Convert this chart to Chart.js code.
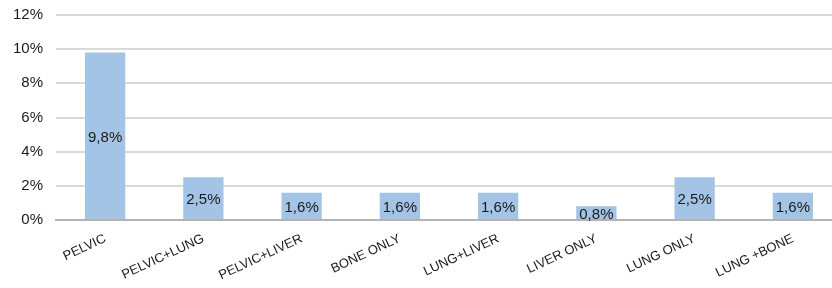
<!DOCTYPE html>
<html>
<head>
<meta charset="utf-8">
<script src="https://cdn.jsdelivr.net/npm/chart.js@4.4.1/dist/chart.umd.min.js"></script>
<style>
    /* canvas is a bit larger than the window: the reference plot runs past the right edge
       and sits closer to the top than Chart.js would put it */
    html, body { margin: 0; padding: 0; background: #fff; overflow: hidden; }
    .chart-container { width: 842px; height: 297px; margin-top: -7px; }
</style>
</head>
<body>
<div class="chart-container"><canvas id="chart"></canvas></div>
<script>
    // Data
    const categories = ['PELVIC', 'PELVIC+LUNG', 'PELVIC+LIVER', 'BONE ONLY', 'LUNG+LIVER', 'LIVER ONLY', 'LUNG ONLY', 'LUNG +BONE'];
    const shares = [9.8, 2.5, 1.6, 1.6, 1.6, 0.8, 2.5, 1.6];
    const yTicks = [0, 2, 4, 6, 8, 10, 12];

    const fontFamily = '"Liberation Sans", Arial, Helvetica, sans-serif';

    // Value labels drawn in the middle of each bar, with a comma decimal
    const barLabels = {
        id: 'barLabels',
        afterDatasetsDraw(chart) {
            const ctx = chart.ctx;
            const meta = chart.getDatasetMeta(0);
            ctx.save();
            ctx.font = '15px ' + fontFamily;
            ctx.fillStyle = '#1a1a1a';
            ctx.textAlign = 'center';
            ctx.textBaseline = 'middle';
            meta.data.forEach((bar, i) => {
                const p = bar.getProps(['x', 'y', 'base'], true);
                const text = shares[i].toFixed(1).replace('.', ',') + '%';
                ctx.fillText(text, p.x, (p.y + p.base) / 2 + 2);
            });
            ctx.restore();
        }
    };

    new Chart(document.getElementById('chart'), {
        type: 'bar',
        data: {
            labels: categories,
            datasets: [{
                data: shares,
                backgroundColor: '#a4c4e6',
                borderWidth: 0,
                barPercentage: 0.41,
                categoryPercentage: 1
            }]
        },
        options: {
            responsive: true,
            maintainAspectRatio: false,
            animation: false,
            layout: { padding: 0 },
            plugins: { legend: { display: false }, tooltip: { enabled: false } },
            scales: {
                x: {
                    grid: { display: false },
                    border: { color: '#b3b3b3', width: 2 },
                    ticks: {
                        color: '#1a1a1a',
                        font: { family: fontFamily, size: 13 },
                        minRotation: 25,
                        maxRotation: 25,
                        autoSkip: false,
                        padding: 3
                    },
                    afterFit(scale) { scale.height = 70; }
                },
                y: {
                    min: 0,
                    max: 12,
                    afterBuildTicks(scale) { scale.ticks = yTicks.map(v => ({ value: v })); },
                    grid: { color: '#d9d9d9', lineWidth: 2, drawTicks: false },
                    border: { display: false },
                    ticks: {
                        color: '#1a1a1a',
                        font: { family: fontFamily, size: 15 },
                        padding: 13,
                        callback: (v) => v + '%'
                    },
                    afterFit(scale) { scale.width = 56; }
                }
            }
        },
        plugins: [barLabels]
    });
</script>
</body>
</html>
